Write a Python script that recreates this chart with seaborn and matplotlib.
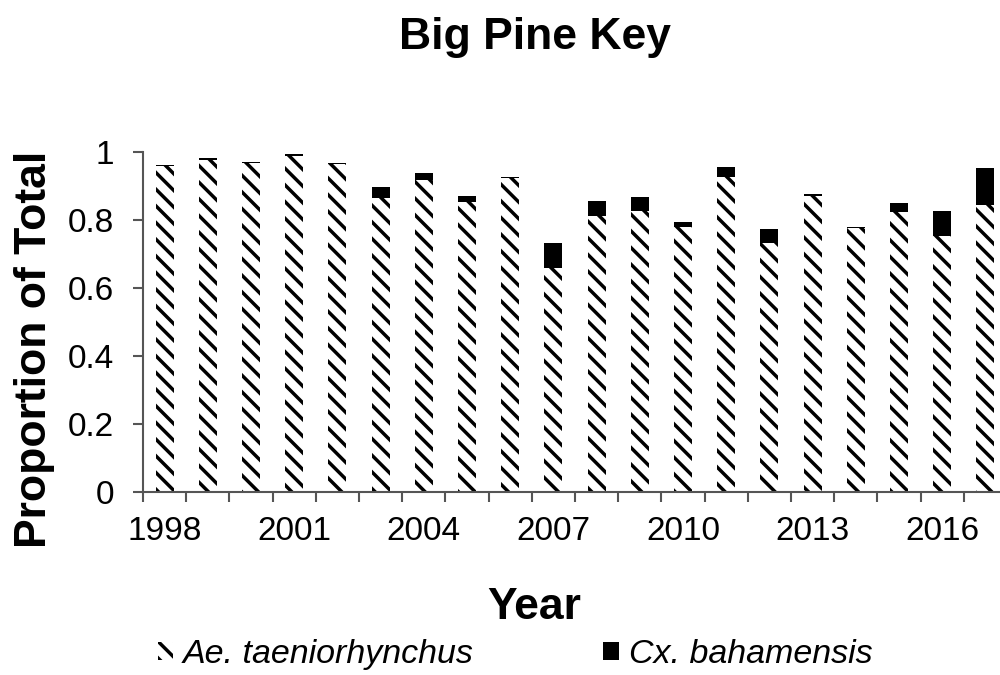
import pandas as pd
import matplotlib.pyplot as plt
import seaborn as sns
from matplotlib.patches import Patch

# proportions
years = list(range(1998, 2018))
ae_taeniorhynchus = [0.958, 0.977, 0.967, 0.989, 0.963, 0.864, 0.916, 0.854, 0.922, 0.660,
                     0.812, 0.825, 0.780, 0.927, 0.731, 0.871, 0.775, 0.822, 0.753, 0.844]
cx_bahamensis = [0.004, 0.004, 0.004, 0.004, 0.004, 0.032, 0.021, 0.017, 0.004, 0.073,
                 0.044, 0.041, 0.015, 0.030, 0.043, 0.005, 0.004, 0.029, 0.073, 0.108]
tick_years = [1998, 2001, 2004, 2007, 2010, 2013, 2016]
y_ticks = [0, 0.2, 0.4, 0.6, 0.8, 1]
y_tick_labels = ["0", "0.2", "0.4", "0.6", "0.8", "1"]


def get_data():
    df = pd.DataFrame({"Year": [str(y) for y in years],
                       "Ae": ae_taeniorhynchus,
                       "Cx": cx_bahamensis})
    df["Total"] = df["Ae"] + df["Cx"]
    return df


def create_graph(data):
    sns.set_theme(style="white")
    plt.rcParams['font.family'] = ['Liberation Sans', 'DejaVu Sans']
    plt.rcParams['hatch.linewidth'] = 2.5
    plt.rcParams['text.color'] = 'black'
    plt.rcParams['xtick.labelcolor'] = 'black'
    plt.rcParams['ytick.labelcolor'] = 'black'
    hatch = "\\\\"
    axis_color = "#555555"

    fig = plt.figure(figsize=(10, 6.75), dpi=100)
    ax = fig.add_axes([0.143, 0.271, 0.864, 0.504])

    # stacked bars: total in black, Ae. on top of it with hatch
    sns.barplot(data=data, x="Year", y="Total", color="black", width=0.42,
                saturation=1, linewidth=0, ax=ax)
    n_first = len(ax.patches)
    sns.barplot(data=data, x="Year", y="Ae", color="white", width=0.42,
                saturation=1, linewidth=0, ax=ax)
    for p in ax.patches[n_first:]:
        p.set_facecolor("white")
        p.set_edgecolor("black")
        p.set_hatch(hatch)
        p.set_linewidth(0)

    ax.set_xlim(-0.5, len(years) - 0.5)
    ax.set_ylim(0, 1)
    ax.set_xlabel("")
    ax.set_ylabel("")

    # tick marks between categories, labels every third year
    ax.set_xticks([i - 0.5 for i in range(len(years) + 1)], labels=[])
    ax.set_xticks([years.index(y) for y in tick_years],
                  labels=[str(y) for y in tick_years], minor=True)
    ax.tick_params(axis="x", which="major", length=7, width=1.5, color=axis_color,
                   bottom=True)
    ax.tick_params(axis="x", which="minor", length=0, labelsize=24, pad=17,
                   labelcolor="black", bottom=True)
    ax.set_yticks(y_ticks, labels=y_tick_labels)
    ax.tick_params(axis="y", length=7, width=1.5, color=axis_color, labelsize=24,
                   pad=14, labelcolor="black", left=True)

    sns.despine(ax=ax)
    for s in ["left", "bottom"]:
        ax.spines[s].set_color(axis_color)
        ax.spines[s].set_linewidth(1.5)

    fig.text(0.535, 0.944, "Big Pine Key", ha="center", va="center",
             fontsize=32, fontweight="bold", color="black")
    fig.text(0.534, 0.10, "Year", ha="center", va="center",
             fontsize=32, fontweight="bold", color="black")
    fig.text(0.035, 0.483, "Proportion of Total", ha="center", va="center",
             rotation=90, fontsize=32, fontweight="bold", color="black")

    handles = [Patch(facecolor="white", edgecolor="black", hatch=hatch, linewidth=0),
               Patch(facecolor="black", edgecolor="black", linewidth=0)]
    fig.legend(handles, ["Ae. taeniorhynchus", "Cx. bahamensis"], loc="center",
               bbox_to_anchor=(0.515, 0.03), ncol=2, frameon=False,
               prop={"style": "italic", "size": 24.5}, handlelength=0.45,
               handleheight=0.45, columnspacing=3.8, handletextpad=0.3)

    fig.savefig("out.png", dpi=100)


if __name__ == '__main__':
    create_graph(get_data())
